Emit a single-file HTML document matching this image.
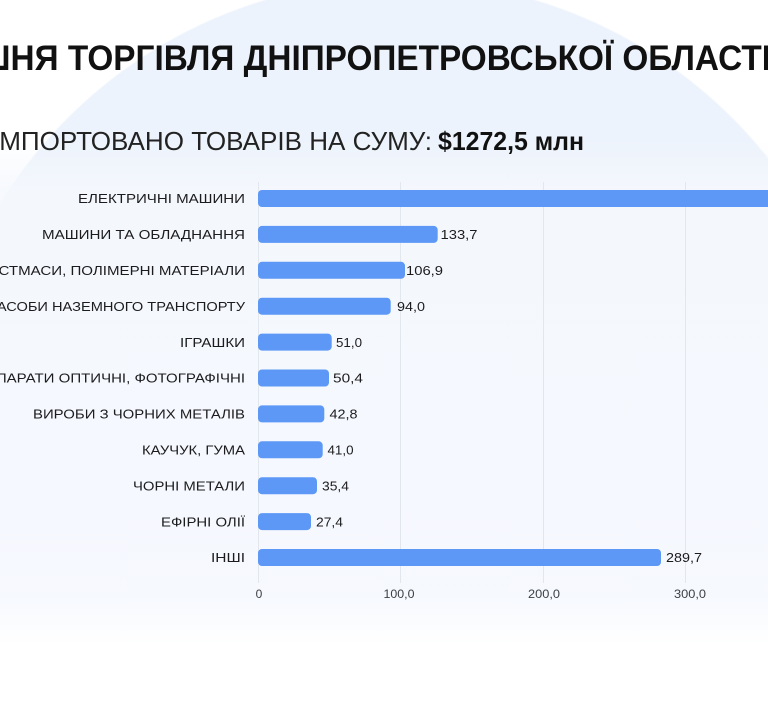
<!DOCTYPE html>
<html>
<head>
<meta charset="utf-8">
<style>
  html,body{margin:0;padding:0;overflow:hidden;}
  html{background:#fff;}
  body{
    width:768px;height:720px;overflow:hidden;
    background:
      linear-gradient(to bottom,
        rgba(245,248,253,0) 140px,
        rgba(245,248,253,0.9) 192px,
        rgba(246,249,254,0.95) 592px,
        #ffffff 645px,
        #ffffff 720px),
      radial-gradient(circle 470px at 400px 450px, #edf3fc 469px, #ffffff 470.5px);
    background-repeat:no-repeat;
    background-size:768px 720px;
  }
  svg{display:block;overflow:hidden;}
  text{font-family:"Liberation Sans","Noto Sans CJK SC",sans-serif;}
</style>
</head>
<body>
<svg width="768" height="720" viewBox="0 0 768 720" xmlns="http://www.w3.org/2000/svg">
  <!-- Title -->
  <text x="-23" y="70" font-size="35" font-weight="bold" fill="#111111" textLength="794" lengthAdjust="spacingAndGlyphs">ШНЯ ТОРГІВЛЯ ДНІПРОПЕТРОВСЬКОЇ ОБЛАСТІ</text>

  <!-- Subtitle -->
  <text x="-8" y="150" font-size="26" fill="#222222" textLength="440" lengthAdjust="spacingAndGlyphs">ІМПОРТОВАНО ТОВАРІВ НА СУМУ:</text>
  <text x="438" y="150" font-size="26" font-weight="bold" fill="#111111" textLength="146" lengthAdjust="spacingAndGlyphs">$1272,5 млн</text>

  <!-- Gridlines -->
  <g stroke="#e2e7ee" stroke-width="1">
    <line x1="258.5" y1="182" x2="258.5" y2="583"/>
    <line x1="400.5" y1="182" x2="400.5" y2="583"/>
    <line x1="543.5" y1="182" x2="543.5" y2="583"/>
    <line x1="685.5" y1="182" x2="685.5" y2="583"/>
  </g>

  <!-- Bars -->
  <g fill="#5d98f6">
    <rect x="258" y="190" width="518" height="17" rx="4"/>
    <rect x="258" y="225.9" width="179.7" height="17" rx="4"/>
    <rect x="258" y="261.8" width="147" height="17" rx="4"/>
    <rect x="258" y="297.7" width="132.7" height="17" rx="4"/>
    <rect x="258" y="333.6" width="73.7" height="17" rx="4"/>
    <rect x="258" y="369.5" width="71" height="17" rx="4"/>
    <rect x="258" y="405.4" width="66.3" height="17" rx="4"/>
    <rect x="258" y="441.3" width="64.7" height="17" rx="4"/>
    <rect x="258" y="477.2" width="59" height="17" rx="4"/>
    <rect x="258" y="513.1" width="53" height="17" rx="4"/>
    <rect x="258" y="549" width="403" height="17" rx="4"/>
  </g>

  <!-- Category labels -->
  <g font-size="13" fill="#1c1c1e" text-anchor="end">
    <text x="245" y="203.2" textLength="167" lengthAdjust="spacingAndGlyphs">ЕЛЕКТРИЧНІ МАШИНИ</text>
    <text x="245" y="239.1" textLength="203" lengthAdjust="spacingAndGlyphs">МАШИНИ ТА ОБЛАДНАННЯ</text>
    <text x="245" y="275.0" textLength="277" lengthAdjust="spacingAndGlyphs">ПЛАСТМАСИ, ПОЛІМЕРНІ МАТЕРІАЛИ</text>
    <text x="245" y="310.9" textLength="257" lengthAdjust="spacingAndGlyphs">ЗАСОБИ НАЗЕМНОГО ТРАНСПОРТУ</text>
    <text x="245" y="346.8" textLength="65" lengthAdjust="spacingAndGlyphs">ІГРАШКИ</text>
    <text x="245" y="382.7" textLength="259" lengthAdjust="spacingAndGlyphs">АПАРАТИ ОПТИЧНІ, ФОТОГРАФІЧНІ</text>
    <text x="245" y="418.6" textLength="212" lengthAdjust="spacingAndGlyphs">ВИРОБИ З ЧОРНИХ МЕТАЛІВ</text>
    <text x="245" y="454.5" textLength="103" lengthAdjust="spacingAndGlyphs">КАУЧУК, ГУМА</text>
    <text x="245" y="490.4" textLength="112" lengthAdjust="spacingAndGlyphs">ЧОРНІ МЕТАЛИ</text>
    <text x="245" y="526.3" textLength="84" lengthAdjust="spacingAndGlyphs">ЕФІРНІ ОЛІЇ</text>
    <text x="245" y="562.2" textLength="34" lengthAdjust="spacingAndGlyphs">ІНШІ</text>
  </g>

  <!-- Value labels -->
  <g font-size="13" fill="#1c1c1e">
    <text x="440.5" y="239.1" textLength="37" lengthAdjust="spacingAndGlyphs">133,7</text>
    <text x="406" y="275.0" textLength="37" lengthAdjust="spacingAndGlyphs">106,9</text>
    <text x="397" y="310.9" textLength="28" lengthAdjust="spacingAndGlyphs">94,0</text>
    <text x="336" y="346.8" textLength="26" lengthAdjust="spacingAndGlyphs">51,0</text>
    <text x="333" y="382.7" textLength="30" lengthAdjust="spacingAndGlyphs">50,4</text>
    <text x="329.5" y="418.6" textLength="28" lengthAdjust="spacingAndGlyphs">42,8</text>
    <text x="327.5" y="454.5" textLength="26" lengthAdjust="spacingAndGlyphs">41,0</text>
    <text x="322" y="490.4" textLength="27" lengthAdjust="spacingAndGlyphs">35,4</text>
    <text x="316" y="526.3" textLength="27" lengthAdjust="spacingAndGlyphs">27,4</text>
    <text x="666" y="562.2" textLength="36" lengthAdjust="spacingAndGlyphs">289,7</text>
  </g>

  <!-- Axis tick labels -->
  <g font-size="12" fill="#3c3f44" text-anchor="middle">
    <text x="259" y="598">0</text>
    <text x="399" y="598" textLength="31" lengthAdjust="spacingAndGlyphs">100,0</text>
    <text x="544" y="598" textLength="32" lengthAdjust="spacingAndGlyphs">200,0</text>
    <text x="690" y="598" textLength="32" lengthAdjust="spacingAndGlyphs">300,0</text>
  </g>
</svg>
</body>
</html>
